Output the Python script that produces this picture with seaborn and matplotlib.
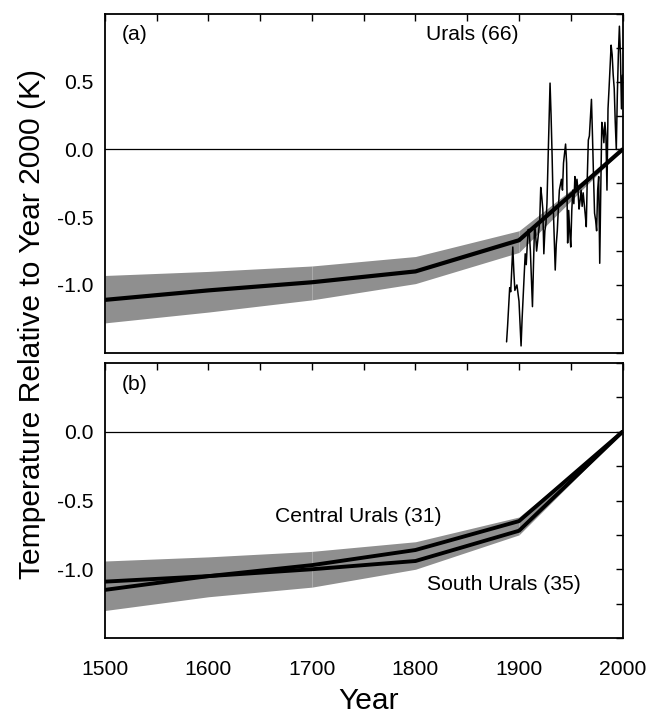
import numpy as np
import pandas as pd
import matplotlib
matplotlib.use("Agg")
import matplotlib.pyplot as plt
import seaborn as sns
from matplotlib.ticker import MultipleLocator

# ---------------- data ----------------
years = [1500, 1600, 1700, 1800, 1900, 2000]

# panel (a): Urals (66) mean reconstruction and its uncertainty band
urals_mean = [-1.11, -1.04, -0.98, -0.90, -0.67, 0.0]
urals_upper = [-0.93, -0.90, -0.86, -0.79, -0.60, 0.0]
urals_lower = [-1.28, -1.20, -1.11, -0.99, -0.76, 0.0]

# panel (a): meteorological record (noisy thin line)
met_years = [1888, 1889, 1891, 1892, 1894, 1895, 1896, 1898, 1900, 1902,
             1903, 1904, 1906, 1907, 1908, 1909, 1910, 1911, 1913, 1914,
             1915, 1916, 1917, 1918, 1920, 1921, 1922, 1923, 1924, 1925,
             1926, 1927, 1928, 1930, 1931, 1932, 1933, 1935, 1936, 1937,
             1938, 1939, 1941, 1942, 1943, 1945, 1946, 1947, 1948, 1949,
             1950, 1951, 1952, 1953, 1954, 1955, 1956, 1957, 1958, 1959,
             1960, 1961, 1962, 1963, 1964, 1965, 1966, 1967, 1968, 1970,
             1971, 1972, 1973, 1974, 1975, 1976, 1977, 1978, 1979, 1980,
             1981, 1982, 1983, 1984, 1985, 1986, 1987, 1989, 1990, 1991,
             1992, 1993, 1994, 1995, 1996, 1997, 1998, 1999, 2000]
met_values = [-1.42, -1.30, -1.02, -1.05, -0.72, -0.90, -1.04, -1.00, -1.12, -1.45,
              -1.25, -1.09, -0.77, -0.85, -0.70, -0.59, -0.62, -0.75, -1.16, -0.85,
              -0.57, -0.62, -0.75, -0.68, -0.53, -0.28, -0.35, -0.44, -0.77, -0.60,
              -0.55, -0.40, -0.10, 0.49, 0.25, -0.05, -0.40, -0.89, -0.70, -0.60,
              -0.44, -0.30, -0.22, -0.30, -0.10, 0.04, -0.10, -0.69, -0.45, -0.60,
              -0.72, -0.45, -0.30, -0.40, -0.20, -0.28, -0.22, -0.30, -0.44, -0.38,
              -0.30, -0.42, -0.32, -0.40, -0.48, -0.57, -0.20, 0.07, 0.10, 0.37,
              0.10, -0.20, -0.47, -0.52, -0.60, -0.30, -0.20, -0.84, -0.30, 0.20,
              0.15, 0.05, 0.20, 0.10, -0.30, 0.30, 0.45, 0.77, 0.70, 0.55,
              0.45, 0.20, 0.00, 0.40, 0.70, 0.91, 0.70, 0.30, 0.55]

# panel (b): Central Urals (31) and South Urals (35)
central_mean = [-1.15, -1.05, -0.97, -0.86, -0.65, 0.0]
south_mean = [-1.09, -1.05, -1.00, -0.94, -0.72, 0.0]
band_b_upper = [-0.94, -0.91, -0.87, -0.80, -0.62, 0.0]
band_b_lower = [-1.30, -1.20, -1.13, -1.00, -0.75, 0.0]

x_ticks = [1500, 1600, 1700, 1800, 1900, 2000]
y_ticks_a = [-1.0, -0.5, 0.0, 0.5]
y_ticks_b = [-1.0, -0.5, 0.0]

# ---------------- style ----------------
sns.set_theme(style="white")
plt.rcParams["font.family"] = ["Liberation Sans", "DejaVu Sans"]
plt.rcParams["axes.unicode_minus"] = False
plt.rcParams["axes.edgecolor"] = "black"
plt.rcParams["axes.linewidth"] = 1.3
plt.rcParams["text.color"] = "black"
plt.rcParams["axes.labelcolor"] = "black"
plt.rcParams["xtick.color"] = "black"
plt.rcParams["ytick.color"] = "black"

BAND = "#8f8f8f"
FS = 15.2
W, H = 653, 716
fig = plt.figure(figsize=(W / 100, H / 100), dpi=100)
ax_a = fig.add_axes([105 / W, 1 - 352.7 / H, (622.5 - 105) / W, (352.7 - 14) / H])
ax_b = fig.add_axes([105 / W, 1 - 638 / H, (622.5 - 105) / W, (638 - 363) / H])


def draw_band(ax, yrs, lo, hi):
    for i in range(len(yrs) - 1):
        ax.fill_between(yrs[i:i + 2], lo[i:i + 2], hi[i:i + 2],
                        color=BAND, linewidth=0, antialiased=True, zorder=1)


# panel (a)
draw_band(ax_a, years, urals_lower, urals_upper)
ax_a.axhline(0, color="black", lw=0.9, zorder=2)
df_met = pd.DataFrame({"year": met_years, "value": met_values})
sns.lineplot(data=df_met, x="year", y="value", ax=ax_a, color="black",
             lw=1.1, zorder=3, estimator=None)
df_a = pd.DataFrame({"year": years, "value": urals_mean})
sns.lineplot(data=df_a, x="year", y="value", ax=ax_a, color="black",
             lw=3.0, zorder=4, estimator=None)

# panel (b)
draw_band(ax_b, years, band_b_lower, band_b_upper)
ax_b.axhline(0, color="black", lw=0.9, zorder=2)
df_b = pd.DataFrame({"year": years * 2,
                     "value": central_mean + south_mean,
                     "region": ["Central"] * 6 + ["South"] * 6})
sns.lineplot(data=df_b, x="year", y="value", units="region", ax=ax_b,
             color="black", lw=2.8, zorder=4, estimator=None)

for ax, yt in ((ax_a, y_ticks_a), (ax_b, y_ticks_b)):
    ax.set_xlim(1500, 2000)
    ax.set_xticks(x_ticks)
    ax.xaxis.set_minor_locator(MultipleLocator(50))
    ax.set_yticks(yt)
    ax.yaxis.set_minor_locator(MultipleLocator(0.25))
    ax.yaxis.set_major_formatter(matplotlib.ticker.FormatStrFormatter("%.1f"))
    ax.tick_params(which="both", direction="in", top=True, right=True,
                   length=5, width=1.0, color="black")
    ax.tick_params(axis="y", which="major", labelsize=FS, pad=8)
    ax.tick_params(axis="x", which="major", labelsize=FS, pad=16)
    ax.set_xlabel("")
    ax.set_ylabel("")
    for s in ax.spines.values():
        s.set_visible(True)
        s.set_color("black")

ax_a.set_ylim(-1.5, 1.0)
ax_b.set_ylim(-1.5, 0.5)
ax_a.tick_params(axis="x", labelbottom=False)

ax_a.text(1516, 0.85, "(a)", fontsize=FS, ha="left", va="center")
ax_a.text(1855, 0.85, "Urals (66)", fontsize=FS, ha="center", va="center")
ax_b.text(1516, 0.34, "(b)", fontsize=FS, ha="left", va="center")
ax_b.text(1745, -0.62, "Central Urals (31)", fontsize=FS, ha="center", va="center")
ax_b.text(1885, -1.11, "South Urals (35)", fontsize=FS, ha="center", va="center")

fig.text(32 / W, 1 - 324 / H, "Temperature Relative to Year 2000 (K)",
         rotation=90, ha="center", va="center", fontsize=21.6)
fig.text(369 / W, 1 - 701 / H, "Year", ha="center", va="center", fontsize=21.6)

fig.savefig("out.png", dpi=100, facecolor="white")
